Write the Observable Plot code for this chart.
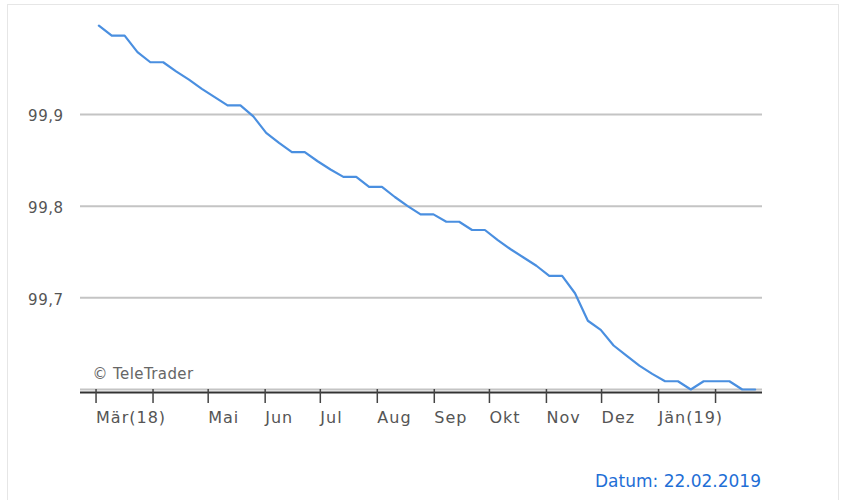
<!DOCTYPE html>
<html>
<head>
<meta charset="utf-8">
<script src="https://cdn.jsdelivr.net/npm/d3@7"></script>
<script src="https://cdn.jsdelivr.net/npm/@observablehq/plot@0.6"></script>
<style>
  html, body { margin: 0; padding: 0; background: #fff; }
  body { width: 842px; height: 500px; position: relative; overflow: hidden; font-family: "DejaVu Sans", Verdana, sans-serif; }
  #frame { position: absolute; left: 7px; top: 4px; width: 832px; height: 520px; border: 1px solid #e6e6e6; box-sizing: border-box; }
  #chart { position: absolute; left: 0; top: 0; }
  #datum { position: absolute; right: 81px; top: 471px; font-size: 17px; line-height: 20px; color: #1f6fd6; }
  g[aria-label="x-axis tick label"] text { letter-spacing: 1px; }
  g[aria-label="y-axis tick label"] text { letter-spacing: 0.5px; }
  g[aria-label="text"] text { letter-spacing: 0.4px; }
</style>
</head>
<body>
<div id="frame"></div>
<div id="chart"></div>
<div id="datum">Datum: 22.02.2019</div>
<script>
// Weekly closing values (Fridays)
const dates = [
  "2018-03-02","2018-03-09","2018-03-16","2018-03-23","2018-03-30",
  "2018-04-06","2018-04-13","2018-04-20","2018-04-27",
  "2018-05-04","2018-05-11","2018-05-18","2018-05-25",
  "2018-06-01","2018-06-08","2018-06-15","2018-06-22","2018-06-29",
  "2018-07-06","2018-07-13","2018-07-20","2018-07-27",
  "2018-08-03","2018-08-10","2018-08-17","2018-08-24","2018-08-31",
  "2018-09-07","2018-09-14","2018-09-21","2018-09-28",
  "2018-10-05","2018-10-12","2018-10-19","2018-10-26",
  "2018-11-02","2018-11-09","2018-11-16","2018-11-23","2018-11-30",
  "2018-12-07","2018-12-14","2018-12-21","2018-12-28",
  "2019-01-04","2019-01-11","2019-01-18","2019-01-25",
  "2019-02-01","2019-02-08","2019-02-15","2019-02-22"
];
const values = [
  99.997, 99.986, 99.986, 99.968, 99.957,
  99.957, 99.947, 99.938, 99.928,
  99.919, 99.910, 99.910, 99.898,
  99.880, 99.869, 99.859, 99.859, 99.849,
  99.840, 99.832, 99.832, 99.821,
  99.821, 99.810, 99.800, 99.791, 99.791,
  99.783, 99.783, 99.774, 99.774,
  99.763, 99.753, 99.744, 99.735,
  99.724, 99.724, 99.705, 99.675, 99.665,
  99.648, 99.637, 99.626, 99.617,
  99.609, 99.609, 99.600, 99.609,
  99.609, 99.609, 99.600, 99.600
];
const monthTicks = ["2018-03-01","2018-04-01","2018-05-01","2018-06-01","2018-07-01","2018-08-01",
  "2018-09-01","2018-10-01","2018-11-01","2018-12-01","2019-01-01","2019-02-01"];
const monthLabels = ["Mär(18)","","Mai","Jun","Jul","Aug","Sep","Okt","Nov","Dez","Jän(19)",""];
const yTicks = [99.7, 99.8, 99.9];
const gridValues = [99.6, 99.7, 99.8, 99.9];
const baseValue = 99.6;
const copyright = "© TeleTrader";

const data = dates.map((d, i) => ({date: new Date(d), value: values[i]}));
const tickDates = monthTicks.map(d => new Date(d));
const labelOf = new Map(tickDates.map((d, i) => [+d, monthLabels[i]]));

const chart = Plot.plot({
  width: 842,
  height: 440,
  marginLeft: 80,
  marginRight: 80,
  marginTop: 4,
  marginBottom: 51,
  style: {fontFamily: "DejaVu Sans, Verdana, sans-serif", background: "transparent"},
  x: {type: "utc", domain: [new Date("2018-02-20"), new Date("2019-02-26")]},
  y: {domain: [99.6, 100.02]},
  marks: [
    Plot.ruleY(gridValues, {stroke: "#c4c4c4", strokeWidth: 2}),
    Plot.ruleY([baseValue], {stroke: "#333", strokeWidth: 2, dy: 3}),
    Plot.axisY({ticks: yTicks, tickSize: 0, tickPadding: 17, tickFormat: d => d.toFixed(1).replace(".", ","),
      fontSize: 15, fill: "#555", dy: 2, label: null}),
    Plot.axisX({ticks: tickDates, tickSize: 14, tickPadding: 8, stroke: "#444", strokeWidth: 1.5,
      tickFormat: d => labelOf.get(+d), textAnchor: "start", dx: -1,
      fontSize: 16, fill: "#555", label: null}),
    Plot.lineY(data, {x: "date", y: "value", stroke: "#4a8fe0", strokeWidth: 2.2}),
    Plot.text([copyright], {frameAnchor: "bottom-left", dx: 12, dy: -11, lineAnchor: "bottom",
      textAnchor: "start", fontSize: 15, fill: "#666"})
  ]
});
document.getElementById("chart").appendChild(chart);
</script>
</body>
</html>
